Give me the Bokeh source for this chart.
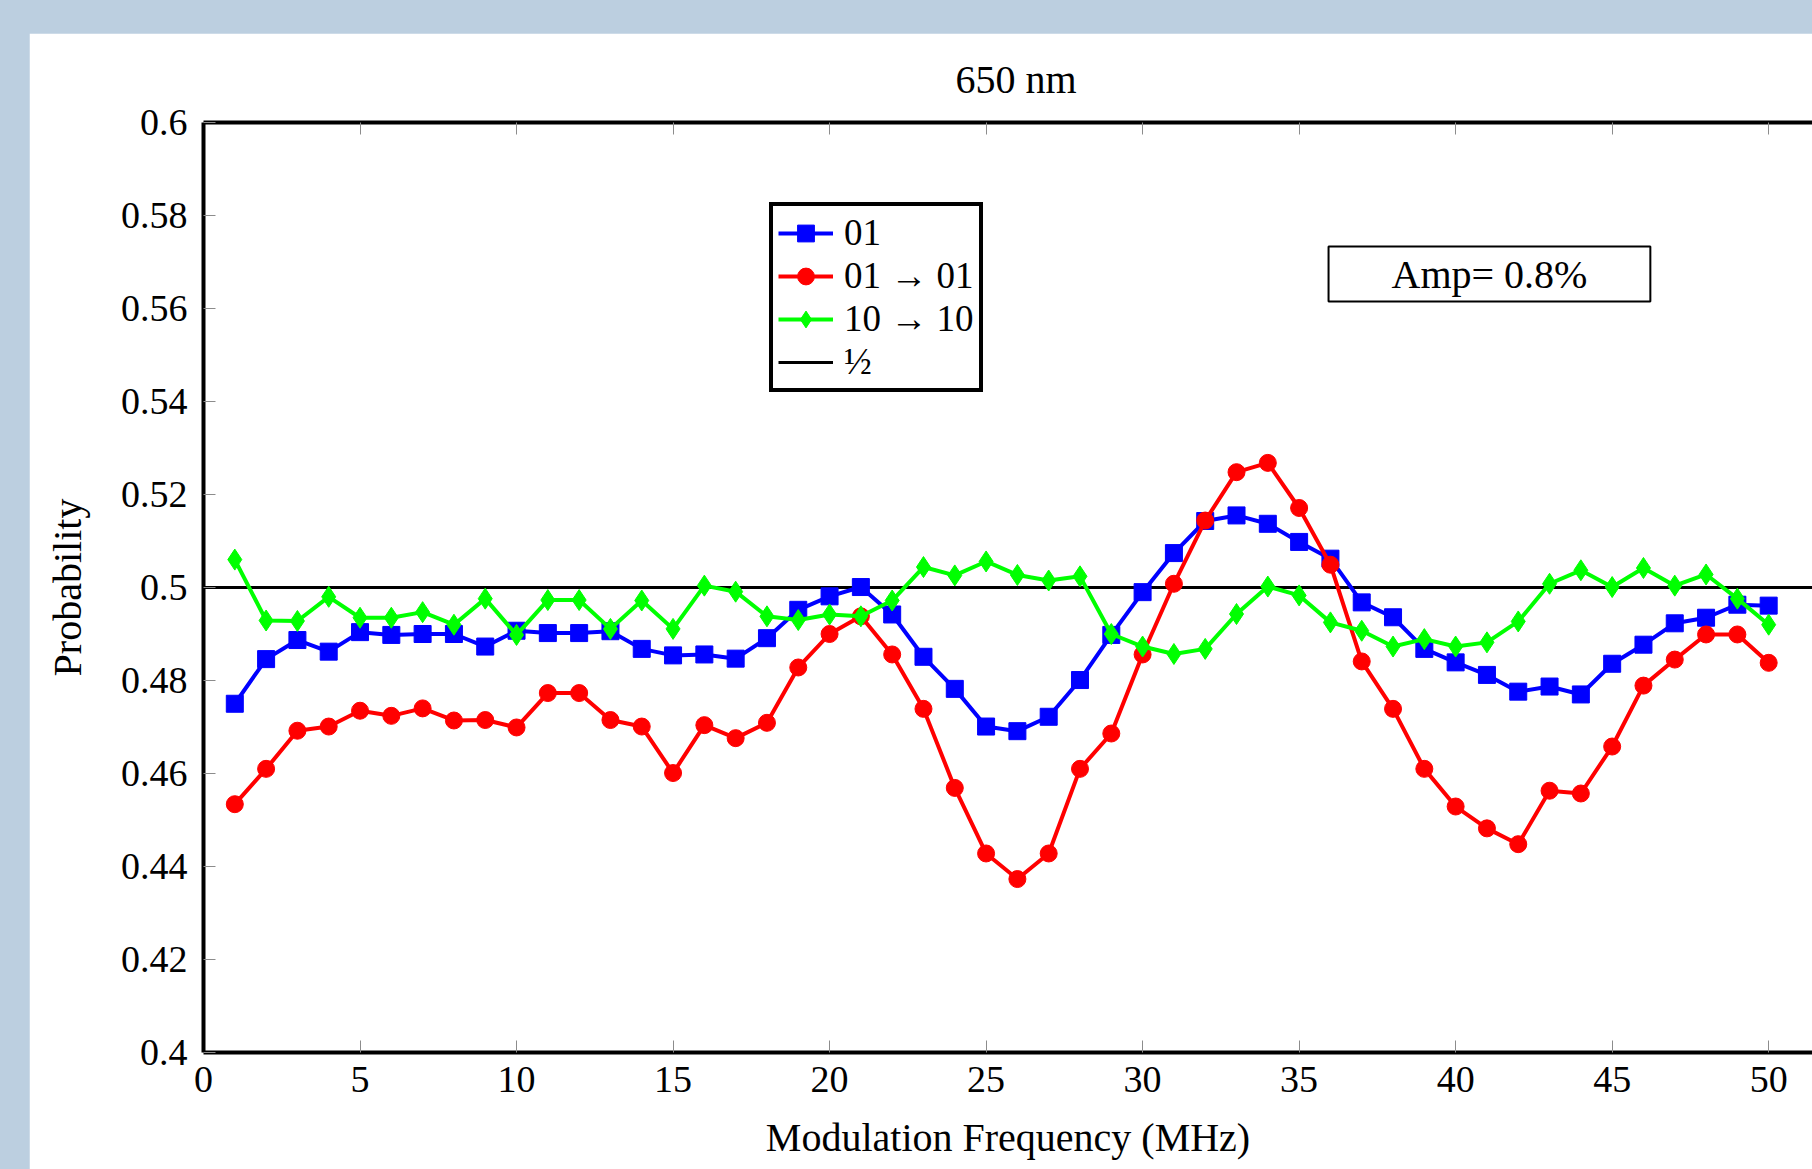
from bokeh.plotting import figure
from bokeh.models import Label, Legend, LegendItem, LinearAxis, FixedTicker, Range1d, BoxAnnotation
from bokeh.embed import file_html
from bokeh.resources import INLINE

# ---------------- data ----------------
freq = list(range(1, 51))

p01 = [0.4750, 0.4846, 0.4887, 0.4862, 0.4904, 0.4898, 0.4900, 0.4900, 0.4873, 0.4907,
       0.4902, 0.4902, 0.4906, 0.4868, 0.4854, 0.4856, 0.4847, 0.4891, 0.4952, 0.4981,
       0.5001, 0.4942, 0.4851, 0.4782, 0.4701, 0.4691, 0.4722, 0.4801, 0.4898, 0.4990,
       0.5074, 0.5143, 0.5155, 0.5137, 0.5098, 0.5062, 0.4968, 0.4936, 0.4868, 0.4839,
       0.4812, 0.4776, 0.4787, 0.4770, 0.4836, 0.4877, 0.4923, 0.4935, 0.4963, 0.4961]

p01_01 = [0.4534, 0.4610, 0.4692, 0.4701, 0.4735, 0.4724, 0.4740, 0.4714, 0.4715, 0.4699,
          0.4773, 0.4773, 0.4715, 0.4701, 0.4601, 0.4704, 0.4676, 0.4709, 0.4828, 0.4900,
          0.4938, 0.4856, 0.4739, 0.4569, 0.4428, 0.4373, 0.4428, 0.4610, 0.4686, 0.4856,
          0.5008, 0.5144, 0.5248, 0.5268, 0.5171, 0.5049, 0.4841, 0.4739, 0.4610, 0.4529,
          0.4482, 0.4448, 0.4563, 0.4557, 0.4658, 0.4789, 0.4845, 0.4899, 0.4899, 0.4838]

p10_10 = [0.5060, 0.4929, 0.4928, 0.4980, 0.4935, 0.4935, 0.4947, 0.4920, 0.4976, 0.4898,
          0.4973, 0.4973, 0.4911, 0.4972, 0.4911, 0.5004, 0.4991, 0.4938, 0.4930, 0.4942,
          0.4938, 0.4972, 0.5044, 0.5026, 0.5056, 0.5027, 0.5015, 0.5024, 0.4900, 0.4873,
          0.4857, 0.4868, 0.4943, 0.5002, 0.4983, 0.4925, 0.4907, 0.4873, 0.4889, 0.4873,
          0.4882, 0.4927, 0.5008, 0.5037, 0.5001, 0.5042, 0.5004, 0.5028, 0.4976, 0.4920]

half_level = 0.5

series_names = ["01", "01 \u2192 01", "10 \u2192 10", "\u00bd"]

x_ticks = [0, 5, 10, 15, 20, 25, 30, 35, 40, 45, 50]
x_tick_labels = ["0", "5", "10", "15", "20", "25", "30", "35", "40", "45", "50"]
y_ticks = [0.4, 0.42, 0.44, 0.46, 0.48, 0.5, 0.52, 0.54, 0.56, 0.58, 0.6]
y_tick_labels = ["0.4", "0.42", "0.44", "0.46", "0.48", "0.5", "0.52", "0.54", "0.56", "0.58", "0.6"]

title_text = "650 nm"
x_label_text = "Modulation Frequency (MHz)"
y_label_text = "Probability"
amp_text = "Amp= 0.8%"

# ---------------- layout ----------------
FONT = "Liberation Serif"
FS_TICK = "38px"
FS_WORD = "40px"
FS_LEG = "37px"
X0, X1 = 0, 51.4
Y0, Y1 = 0.4, 0.6

p = figure(width=1783, height=1136, output_backend="svg", toolbar_location=None,
           x_range=Range1d(X0, X1), y_range=Range1d(Y0, Y1),
           min_border_left=174, min_border_right=0, min_border_top=89, min_border_bottom=117,
           margin=(33, 0, 0, 29))
p.outline_line_color = None
p.xgrid.visible = False
p.ygrid.visible = False
p.background_fill_color = "white"
p.border_fill_color = "white"

p.title.text = title_text
p.title.align = "left"
p.title.offset = 752
p.title.vertical_align = "bottom"
p.title.standoff = 42
p.title.text_font = FONT
p.title.text_font_size = FS_WORD
p.title.text_font_style = "normal"
p.title.text_color = "black"

bottom_axis = p.below[0]
left_axis = p.left[0]
top_axis = LinearAxis()
p.add_layout(top_axis, "above")

bottom_axis.ticker = FixedTicker(ticks=x_ticks)
top_axis.ticker = FixedTicker(ticks=x_ticks)
left_axis.ticker = FixedTicker(ticks=y_ticks)
bottom_axis.major_label_overrides = {t: s for t, s in zip(x_ticks, x_tick_labels)}
top_axis.major_label_overrides = {t: "" for t in x_ticks}
left_axis.major_label_overrides = {t: s for t, s in zip(y_ticks, y_tick_labels)}

for ax in [bottom_axis, left_axis, top_axis]:
    ax.axis_line_color = "black"
    ax.axis_line_width = 4
    ax.major_tick_in = 12
    ax.major_tick_out = 0
    ax.major_tick_line_color = "#8c8c8c"
    ax.major_tick_line_width = 1
    ax.minor_tick_line_color = None
    ax.major_label_text_font = FONT
    ax.major_label_text_font_size = FS_TICK
    ax.major_label_text_color = "black"
    ax.axis_label_text_font = FONT
    ax.axis_label_text_font_size = FS_WORD
    ax.axis_label_text_font_style = "normal"
    ax.axis_label_text_color = "black"
top_axis.major_label_text_font_size = "1px"
top_axis.major_label_standoff = 0
bottom_axis.major_label_standoff = 14
left_axis.major_label_standoff = 16
bottom_axis.axis_label = x_label_text
bottom_axis.axis_label_standoff = 20
left_axis.axis_label = y_label_text
left_axis.axis_label_standoff = 28

# half line
half_r = p.line(x=[X0, X1], y=[half_level, half_level], line_color="black", line_width=3)

# series
b_line = p.line(freq, p01, line_color="#0000ff", line_width=4)
b_mark = p.scatter(freq, p01, marker="square", size=17, fill_color="#0000ff", line_color="#0000ff")
r_line = p.line(freq, p01_01, line_color="#ff0000", line_width=4)
r_mark = p.scatter(freq, p01_01, marker="circle", size=17, fill_color="#ff0000", line_color="#ff0000")
g_line = p.line(freq, p10_10, line_color="#00ff00", line_width=4)
g_mark = p.scatter(freq, p10_10, marker="diamond", size=21, fill_color="#00ff00", line_color="#00ff00")

legend = Legend(items=[
    LegendItem(label=series_names[0], renderers=[b_line, b_mark]),
    LegendItem(label=series_names[1], renderers=[r_line, r_mark]),
    LegendItem(label=series_names[2], renderers=[g_line, g_mark]),
    LegendItem(label=series_names[3], renderers=[half_r]),
], location=(566, 660), orientation="vertical",
    border_line_color="black", border_line_width=4, border_line_alpha=1,
    background_fill_color="white", background_fill_alpha=1,
    label_text_font=FONT, label_text_font_size=FS_LEG, label_text_color="black",
    glyph_width=55, glyph_height=42, label_height=42, label_standoff=11,
    spacing=0, padding=5, margin=0)
p.add_layout(legend)

# Amp box
p.add_layout(BoxAnnotation(left=35.94, right=46.22, top=0.57333, bottom=0.56151,
                           fill_color="white", fill_alpha=1, line_color="black",
                           line_width=2, line_alpha=1))
p.add_layout(Label(x=41.08, y=0.5674, text=amp_text, text_align="center",
                   text_baseline="middle", text_font=FONT, text_font_size=FS_WORD,
                   text_color="black"))

html = file_html(p, INLINE, title="650 nm")
html = html.replace("</head>",
                    "<style>html,body{margin:0;padding:0;background:#bccfe0;overflow:hidden;}</style></head>", 1)
open("out.html", "w").write(html)
